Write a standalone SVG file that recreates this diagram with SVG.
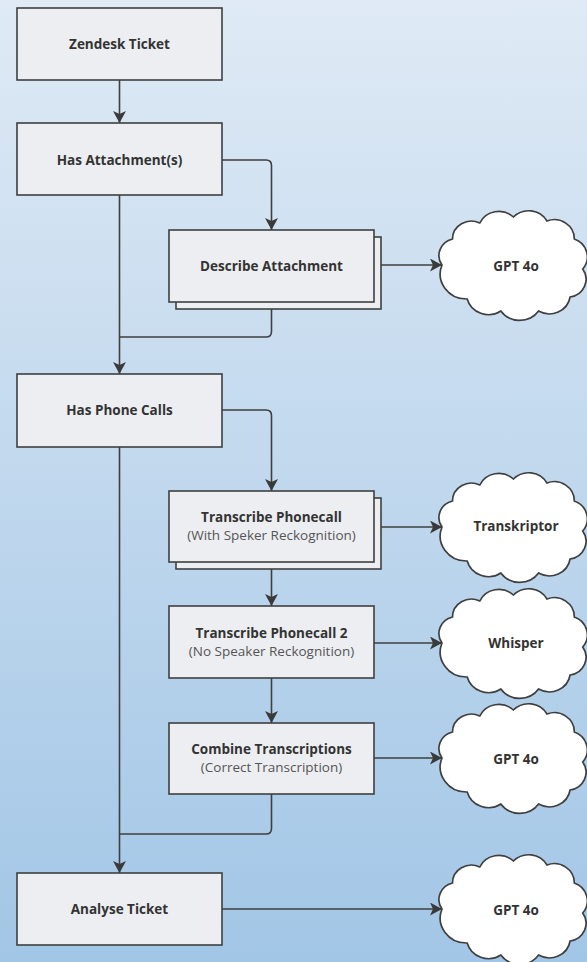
<svg xmlns="http://www.w3.org/2000/svg" width="587" height="962" viewBox="0 0 587 962">
<defs>
<linearGradient id="bg" x1="0" y1="0" x2="0" y2="1">
<stop offset="0" stop-color="#dfeaf5"/>
<stop offset="1" stop-color="#a2c6e6"/>
</linearGradient>
<marker id="arr" markerUnits="userSpaceOnUse" markerWidth="13" markerHeight="13" refX="12" refY="6.5" orient="auto">
<path d="M0,0 L12,6.5 L0,13 L3,6.5 Z" fill="#3a3a3a"/>
</marker>
<path id="cloud" d="M6,56 A17,17 0 0 1 16,30 A18,18 0 0 1 42,14 A20,20 0 0 1 74,8 A20,20 0 0 1 106,12 A19,19 0 0 1 132,30 A19,19 0 0 1 140,60 A18,18 0 0 1 128,88 A20,20 0 0 1 98,102 A22,22 0 0 1 62,102 A21,21 0 0 1 30,90 A25,25 0 0 1 6,56 Z"/>
</defs>
<style>
.box{fill:#eceef1;stroke:#3f3f3f;stroke-width:1.6}
.cl{fill:#ffffff;stroke:#3f3f3f;stroke-width:1.6}
.t{font-family:"Open Sans","Liberation Sans",sans-serif;font-size:13.5px;font-weight:700;fill:#333;text-anchor:middle}
.s{font-family:"Open Sans","Liberation Sans",sans-serif;font-size:13.5px;font-weight:400;fill:#555;text-anchor:middle}
.c{fill:none;stroke:#3f3f3f;stroke-width:1.6}
</style>
<rect x="0" y="0" width="587" height="962" fill="url(#bg)"/>

<g id="connectors">
<path class="c" d="M119.5,80 V123" marker-end="url(#arr)"/>
<path class="c" d="M222,160 H266 Q271.5,160 271.5,165.5 V230" marker-end="url(#arr)"/>
<path class="c" d="M119.5,195 V374" marker-end="url(#arr)"/>
<path class="c" d="M271.5,309 V331.5 Q271.5,337 266,337 H119.5"/>
<path class="c" d="M373.5,265 H442" marker-end="url(#arr)"/>
<path class="c" d="M222,410 H266 Q271.5,410 271.5,415.5 V491" marker-end="url(#arr)"/>
<path class="c" d="M119.5,447 V873" marker-end="url(#arr)"/>
<path class="c" d="M373.5,527 H442" marker-end="url(#arr)"/>
<path class="c" d="M271.5,569 V606" marker-end="url(#arr)"/>
<path class="c" d="M373.5,643 H442" marker-end="url(#arr)"/>
<path class="c" d="M271.5,678 V723" marker-end="url(#arr)"/>
<path class="c" d="M373.5,758 H442" marker-end="url(#arr)"/>
<path class="c" d="M271.5,794 V828.5 Q271.5,834 266,834 H119.5"/>
<path class="c" d="M222,909 H442" marker-end="url(#arr)"/>
</g>

<g id="zendesk">
<rect class="box" x="17" y="8" width="205" height="72"/>
<text class="t" x="119.5" y="49">Zendesk Ticket</text>
</g>
<g id="has-attachments">
<rect class="box" x="17" y="123" width="205" height="72"/>
<text class="t" x="119.5" y="165">Has Attachment(s)</text>
</g>
<g id="describe-attachment">
<rect class="box" x="176" y="237" width="205" height="72"/>
<rect class="box" x="169" y="230" width="205" height="72"/>
<text class="t" x="271.5" y="270.5">Describe Attachment</text>
</g>
<g id="cloud-gpt-1">
<use href="#cloud" class="cl" transform="translate(435.7,209) scale(1.05,1)"/>
<text class="t" x="516" y="271">GPT 4o</text>
</g>
<g id="has-phone-calls">
<rect class="box" x="17" y="374" width="205" height="73"/>
<text class="t" x="119.5" y="415">Has Phone Calls</text>
</g>
<g id="transcribe-1">
<rect class="box" x="176" y="498" width="205" height="71"/>
<rect class="box" x="169" y="491" width="205" height="71"/>
<text class="t" x="271.5" y="522">Transcribe Phonecall</text>
<text class="s" x="271.5" y="540">(With Speker Reckognition)</text>
</g>
<g id="cloud-transkriptor">
<use href="#cloud" class="cl" transform="translate(435.7,471) scale(1.05,1)"/>
<text class="t" x="516" y="531">Transkriptor</text>
</g>
<g id="transcribe-2">
<rect class="box" x="169" y="606" width="205" height="72"/>
<text class="t" x="271.5" y="638">Transcribe Phonecall 2</text>
<text class="s" x="271.5" y="656">(No Speaker Reckognition)</text>
</g>
<g id="cloud-whisper">
<use href="#cloud" class="cl" transform="translate(435.7,587) scale(1.05,1)"/>
<text class="t" x="516" y="648">Whisper</text>
</g>
<g id="combine">
<rect class="box" x="169" y="723" width="205" height="71"/>
<text class="t" x="271.5" y="754">Combine Transcriptions</text>
<text class="s" x="271.5" y="772">(Correct Transcription)</text>
</g>
<g id="cloud-gpt-2">
<use href="#cloud" class="cl" transform="translate(435.7,702) scale(1.05,1)"/>
<text class="t" x="516" y="764">GPT 4o</text>
</g>
<g id="analyse">
<rect class="box" x="17" y="873" width="205" height="72"/>
<text class="t" x="119.5" y="914">Analyse Ticket</text>
</g>
<g id="cloud-gpt-3">
<use href="#cloud" class="cl" transform="translate(435.7,853) scale(1.05,1)"/>
<text class="t" x="516" y="915">GPT 4o</text>
</g>
</svg>
